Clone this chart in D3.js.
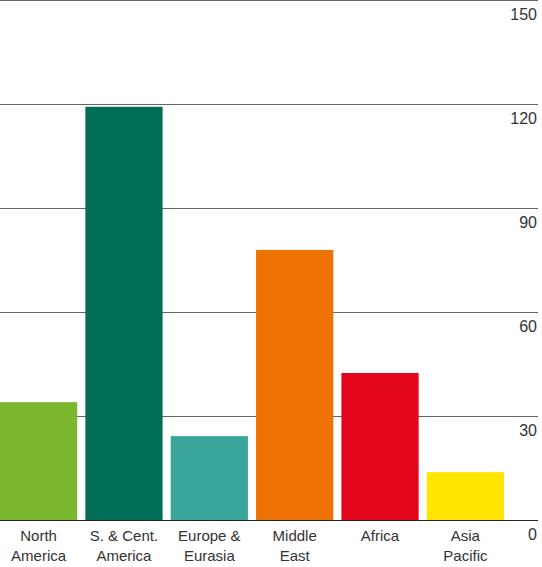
<!DOCTYPE html>
<html><head><meta charset="utf-8">
<script src="https://cdn.jsdelivr.net/npm/d3@7"></script>
<style>body{margin:0;background:#fff}text{font-family:"Liberation Sans",Arial,sans-serif}</style>
</head><body><div id="chart"></div>
<script>
// ─── DATA ───
const categories = [['North','America'],['S. & Cent.','America'],['Europe &','Eurasia'],['Middle','East'],['Africa'],['Asia','Pacific']];
const values = [34.0, 119.2, 24.2, 77.9, 42.4, 13.8];
const colors = ['#7cb82f','#006e55','#3aa59a','#ee7203','#e2051b','#ffe500'];
const ticks = [0, 30, 60, 90, 120, 150];

const W = 542, H = 567;
const plotTop = 0, plotBottom = 520;

const svg = d3.select('#chart').append('svg').attr('width', W).attr('height', H);

let x = d3.scaleBand().domain(d3.range(values.length)).range([0, 504]).paddingInner(8/84).paddingOuter(0);
let y = d3.scaleLinear().domain([0, 150]).range([plotBottom, plotTop]);

// grid lines
svg.selectAll('line.grid').data(ticks).enter().append('line')
  .attr('x1', 0).attr('x2', 538)
  .attr('y1', d => y(d) + 0.5).attr('y2', d => y(d) + 0.5)
  .attr('stroke', d => d === 0 ? '#222' : '#666').attr('stroke-width', 1);

// tick labels
svg.selectAll('text.tick').data(ticks).enter().append('text')
  .attr('x', 537).attr('y', d => y(d) + 20)
  .attr('text-anchor', 'end').attr('font-size', 16).attr('fill', '#333')
  .text(d => d);

// bars
svg.selectAll('rect').data(values).enter().append('rect')
  .attr('x', (d, i) => x(i)).attr('width', x.bandwidth())
  .attr('y', d => y(d)).attr('height', d => y(0) - y(d))
  .attr('fill', (d, i) => colors[i]);

// category labels
const lab = svg.selectAll('text.cat').data(categories).enter().append('text')
  .attr('text-anchor', 'middle').attr('font-size', 15).attr('fill', '#333');
lab.selectAll('tspan').data((d, i) => d.map(s => [s, i])).enter().append('tspan')
  .attr('x', d => x(d[1]) + x.bandwidth() / 2)
  .attr('y', (d, j) => 541 + j * 20)
  .text(d => d[0]);
</script></body></html>
